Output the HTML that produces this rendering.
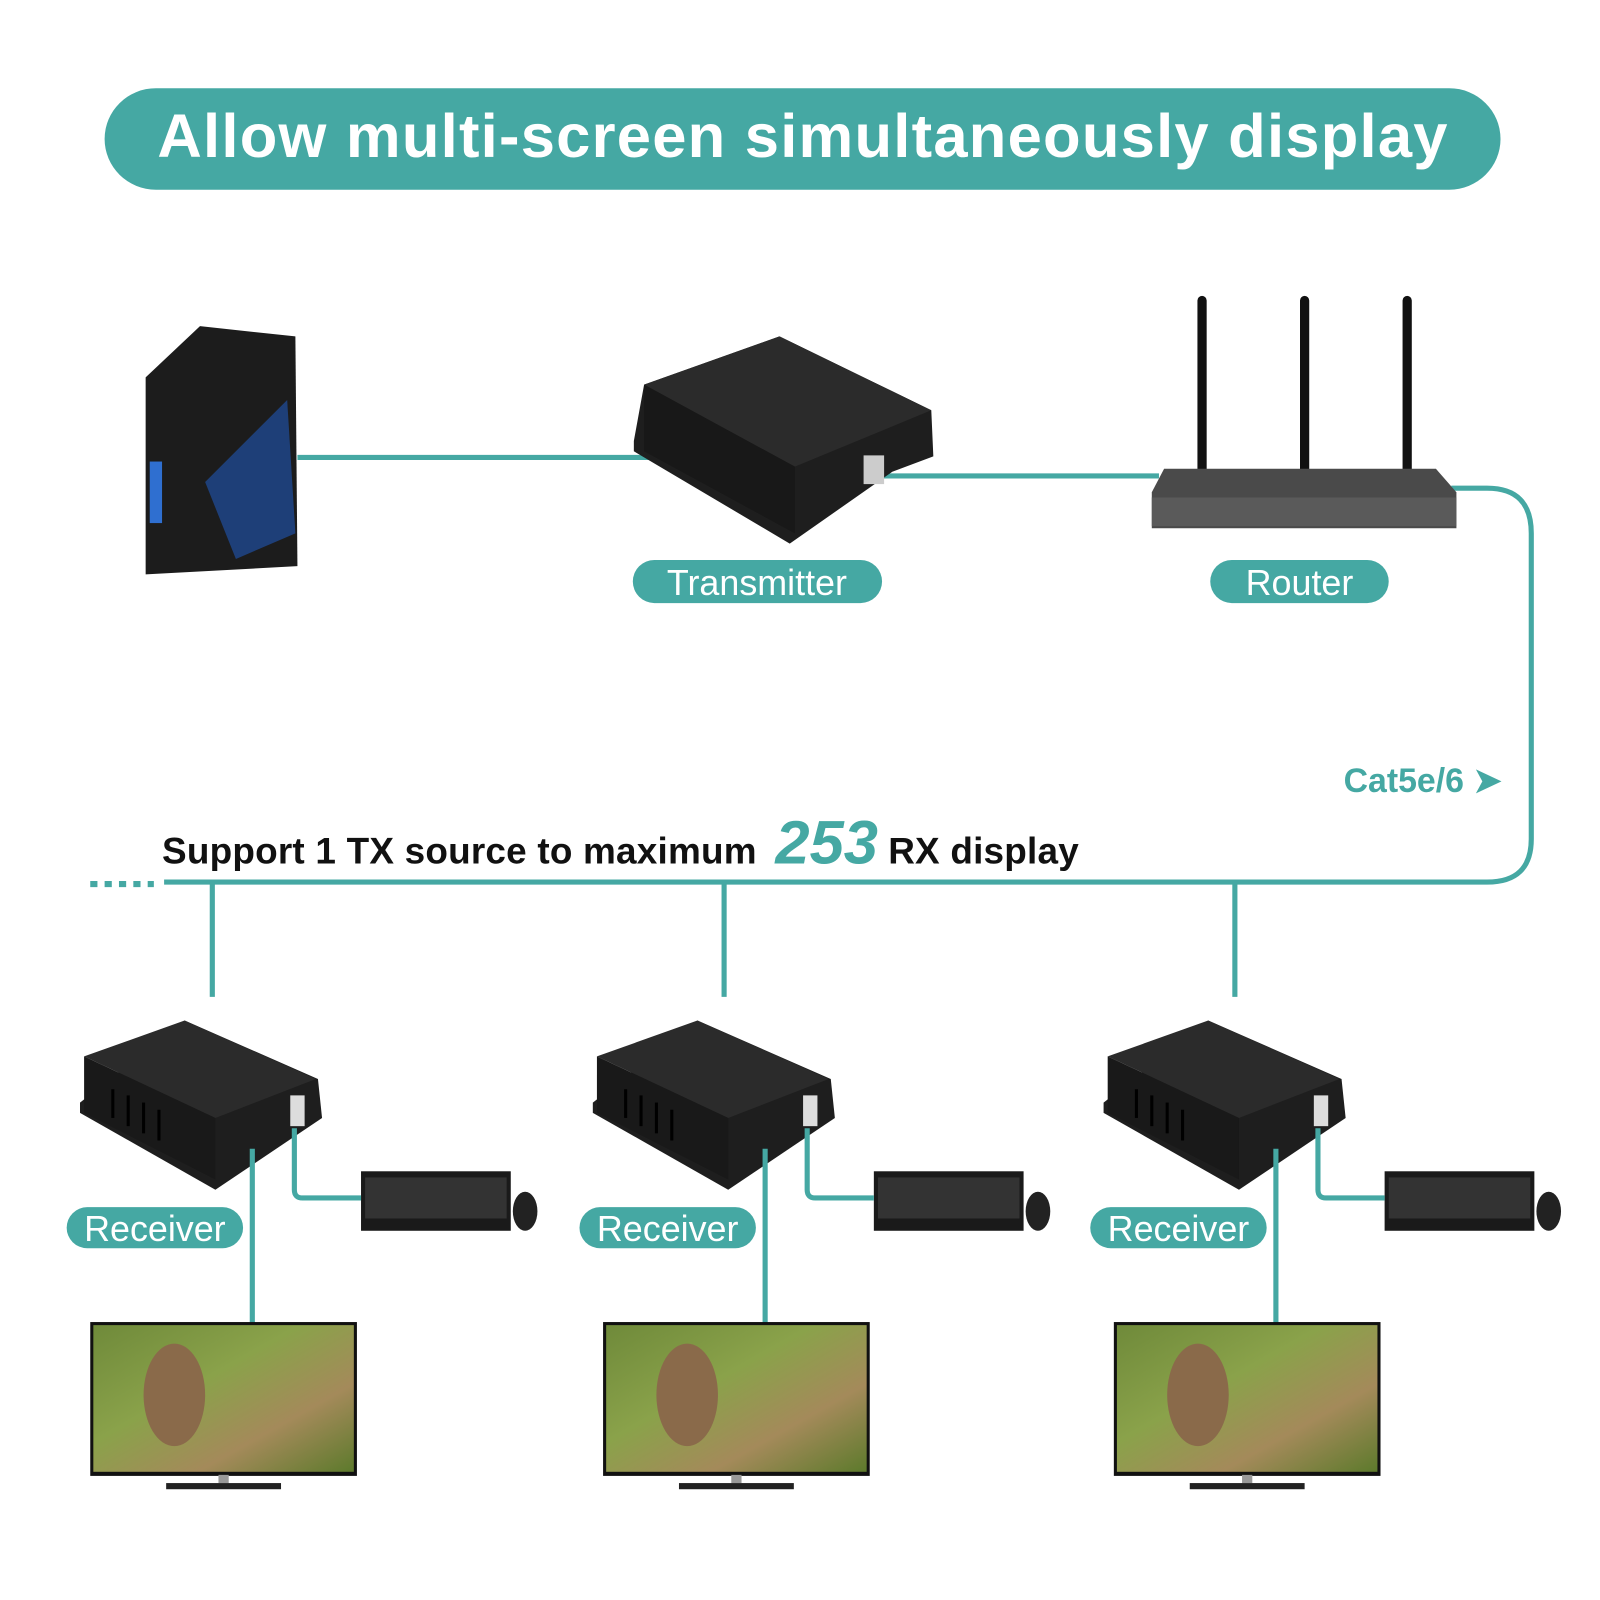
<!DOCTYPE html>
<html><head><meta charset="utf-8"><style>
html,body{margin:0;padding:0;background:#fff;}
svg{display:block;}
text{font-family:"Liberation Sans",Arial,sans-serif;}
</style></head><body>
<svg width="1600" height="1600" viewBox="0 0 1560 1560" xmlns="http://www.w3.org/2000/svg">
<defs>
<linearGradient id="scr" x1="0" y1="0" x2="1" y2="1">
<stop offset="0" stop-color="#6f8a3a"/><stop offset="0.4" stop-color="#8aa24a"/><stop offset="0.7" stop-color="#a48a5a"/><stop offset="1" stop-color="#5d7a2c"/>
</linearGradient>
<g id="rx">
<polygon points="78,1075 180,995 310,1052 314,1090 210,1160 78,1085" fill="#1e1e1e"/>
<polygon points="82,1030 180,995 308,1052 210,1090" fill="#2b2b2b"/>
<polygon points="82,1030 210,1090 210,1150 82,1085" fill="#191919"/>
<line x1="110" y1="1062" x2="110" y2="1090" stroke="#000" stroke-width="3"/>
<line x1="125" y1="1068" x2="125" y2="1098" stroke="#000" stroke-width="3"/>
<line x1="140" y1="1075" x2="140" y2="1105" stroke="#000" stroke-width="3"/>
<line x1="155" y1="1082" x2="155" y2="1112" stroke="#000" stroke-width="3"/>
<rect x="283" y="1068" width="14" height="30" fill="#ddd"/>
<rect x="352" y="1142" width="146" height="58" fill="#1a1a1a"/>
<rect x="356" y="1148" width="138" height="40" fill="#333"/>
<ellipse cx="512" cy="1181" rx="12" ry="19" fill="#222"/>
<rect x="65" y="1177" width="172" height="40" rx="20" fill="#45a8a3"/>
<text x="151" y="1210" font-size="35" fill="#fff" text-anchor="middle">Receiver</text>
<path d="M246 1120 V1290 M287 1100 V1160 Q287 1168 295 1168 H352" stroke="#45a8a3" stroke-width="5" fill="none"/>
<rect x="88" y="1289" width="260" height="150" fill="#111"/>
<rect x="91" y="1292" width="254" height="143" fill="url(#scr)"/>
<ellipse cx="170" cy="1360" rx="30" ry="50" fill="#8a6a4a"/>
<rect x="213" y="1438" width="10" height="8" fill="#999"/>
<rect x="162" y="1446" width="112" height="6" fill="#222"/>
</g>
</defs>
<rect x="102" y="86" width="1361" height="99" rx="50" fill="#45a8a3"/>
<text x="783" y="153" font-size="60" font-weight="bold" fill="#fff" text-anchor="middle" letter-spacing="1.2">Allow multi-screen simultaneously display</text>
<polygon points="142,368 195,318 288,328 290,552 142,560" fill="#1c1c1c"/>
<polygon points="200,470 280,390 288,520 230,545" fill="#1f4fa0" opacity="0.7"/>
<rect x="146" y="450" width="12" height="60" fill="#2f6fd0"/>
<path d="M290 446 H640 M855 464 H1130 M1415 476 H1450 Q1493 476 1493 520 V818 Q1493 860 1450 860 H160" stroke="#45a8a3" stroke-width="5" fill="none"/>
<path d="M88 862 H150" stroke="#45a8a3" stroke-width="6" stroke-dasharray="7,7" fill="none"/>
<path d="M207 860 V972 M706 860 V972 M1204 860 V972" stroke="#45a8a3" stroke-width="5"/>
<polygon points="618,430 628,375 760,328 908,400 910,445 870,460 770,530 618,440" fill="#1e1e1e"/>
<polygon points="628,375 760,328 908,400 775,455" fill="#2b2b2b"/>
<polygon points="628,375 775,455 775,520 628,440" fill="#181818"/>
<rect x="842" y="444" width="20" height="28" fill="#ccc"/>
<path d="M1172 293 V460 M1272 293 V460 M1372 293 V460" stroke="#111" stroke-width="9" stroke-linecap="round"/>
<polygon points="1135,457 1400,457 1420,480 1420,515 1123,515 1123,480" fill="#4a4a4a"/>
<rect x="1123" y="485" width="297" height="28" fill="#5a5a5a"/>
<rect x="617" y="546" width="243" height="42" rx="21" fill="#45a8a3"/>
<text x="738" y="580" font-size="35" fill="#fff" text-anchor="middle">Transmitter</text>
<rect x="1180" y="546" width="174" height="42" rx="21" fill="#45a8a3"/>
<text x="1267" y="580" font-size="35" fill="#fff" text-anchor="middle">Router</text>
<text x="1310" y="772" font-size="33" font-weight="bold" fill="#45a8a3">Cat5e/6 ➤</text>
<text x="158" y="842" font-size="36" font-weight="bold" fill="#111" letter-spacing="0.2">Support 1 TX source to maximum</text>
<text x="756" y="842" font-size="60" font-weight="bold" font-style="italic" fill="#45a8a3">253</text>
<text x="866" y="842" font-size="36" font-weight="bold" fill="#111" letter-spacing="0.2">RX display</text>
<use href="#rx"/>
<use href="#rx" x="500"/>
<use href="#rx" x="998"/>
</svg>
</body></html>
